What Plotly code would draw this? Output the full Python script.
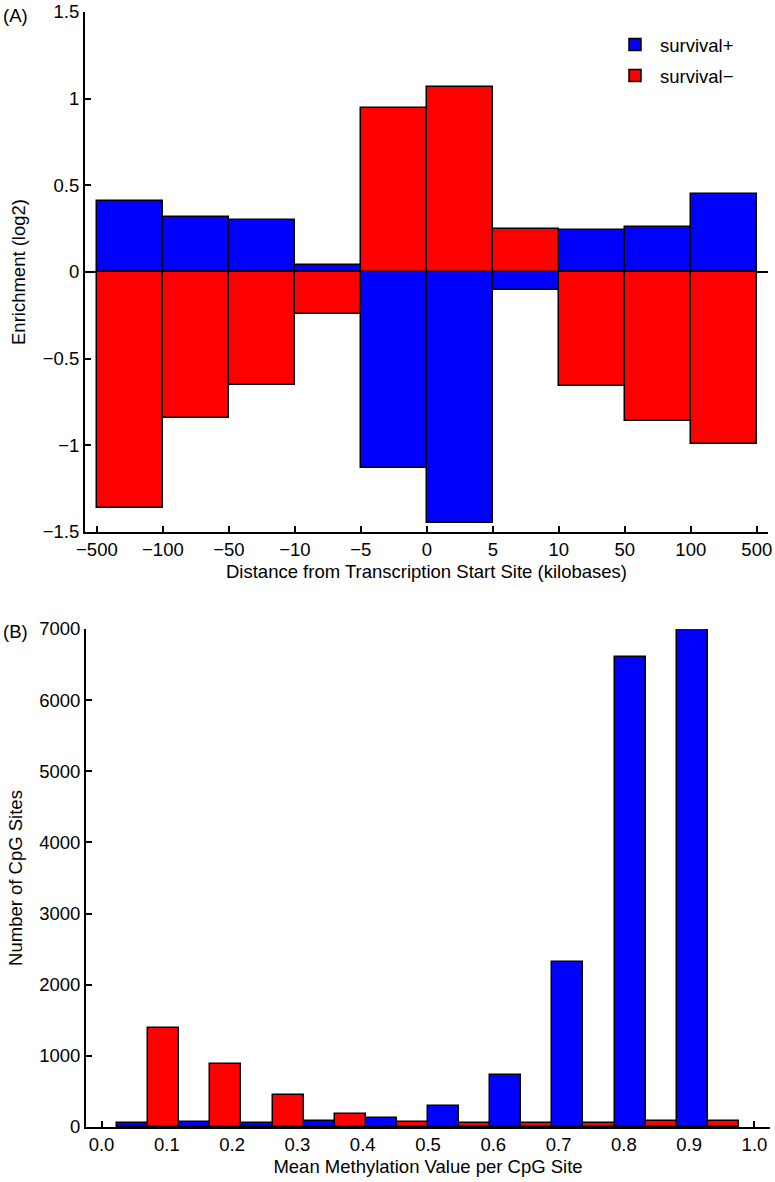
import plotly.graph_objects as go

# ---- Panel A data ----
tss_ticks = ["\u2212500", "\u2212100", "\u221250", "\u221210", "\u22125", "0", "5", "10", "50", "100", "500"]
enrich_pos = [0.41, 0.315, 0.30, 0.04, -1.13, -1.45, -0.105, 0.24, 0.26, 0.45]   # survival+
enrich_neg = [-1.36, -0.84, -0.65, -0.245, 0.945, 1.065, 0.25, -0.66, -0.86, -0.99]  # survival-

# ---- Panel B data ----
# bars are drawn at slot positions 1..20 (survival+ in odd slots, survival- in even slots);
# the 11 methylation tick labels are spread evenly from slot 0 to slot 21
bar_slots_pos = [1, 3, 5, 7, 9, 11, 13, 15, 17, 19]
bar_slots_neg = [2, 4, 6, 8, 10, 12, 14, 16, 18, 20]
meth_tick_slots = [0.0, 2.1, 4.2, 6.3, 8.4, 10.5, 12.6, 14.7, 16.8, 18.9, 21.0]
meth_ticks = ["0.0", "0.1", "0.2", "0.3", "0.4", "0.5", "0.6", "0.7", "0.8", "0.9", "1.0"]
count_pos = [50, 70, 50, 85, 120, 300, 730, 2320, 6610, 7000]   # survival+
count_neg = [1395, 880, 450, 180, 70, 55, 55, 55, 80, 85]       # survival-

BLUE = "#0000FF"
RED = "#FF0000"
FONT = "Liberation Sans, Arial, sans-serif"
FS = 18.5

fig = go.Figure()

centers_a = [i + 0.5 for i in range(len(enrich_pos))]
fig.add_trace(go.Bar(x=centers_a, y=enrich_pos, width=1.0, name="survival+", legendgroup="p",
                     marker=dict(color=BLUE, line=dict(color="black", width=1.5)),
                     xaxis="x", yaxis="y", showlegend=True))
fig.add_trace(go.Bar(x=centers_a, y=enrich_neg, width=1.0, name="survival\u2212", legendgroup="n",
                     marker=dict(color=RED, line=dict(color="black", width=1.5)),
                     xaxis="x", yaxis="y", showlegend=True))

fig.add_trace(go.Bar(x=bar_slots_pos, y=count_pos, width=1.0, name="survival+",
                     legendgroup="p",
                     marker=dict(color=BLUE, line=dict(color="black", width=1.5)),
                     xaxis="x2", yaxis="y2", showlegend=False))
fig.add_trace(go.Bar(x=bar_slots_neg, y=count_neg, width=1.0, name="survival\u2212",
                     legendgroup="n",
                     marker=dict(color=RED, line=dict(color="black", width=1.5)),
                     xaxis="x2", yaxis="y2", showlegend=False))

W, H = 775, 1182
axis_common = dict(showline=True, linecolor="black", linewidth=2, ticks="inside",
                   ticklen=6, tickwidth=2, tickcolor="black", showgrid=False,
                   automargin=False, ticklabeloverflow="allow",
                   tickfont=dict(family=FONT, size=FS, color="black"), mirror=False)
title_font = dict(family=FONT, size=FS, color="black")

fig.update_layout(
    width=W, height=H,
    margin=dict(l=0, r=0, t=0, b=0, autoexpand=False),
    paper_bgcolor="white", plot_bgcolor="white",
    barmode="overlay", bargap=0,
    font=dict(family=FONT, size=FS, color="black"),
    xaxis=dict(domain=[85 / W, 768 / W], range=[-0.18, 10.17],
               tickmode="array", tickvals=list(range(11)), ticktext=tss_ticks,
               anchor="y", zeroline=False,
               title=dict(text="Distance from Transcription Start Site (kilobases)",
                          font=title_font, standoff=6),
               **axis_common),
    yaxis=dict(domain=[1 - 532 / H, 1 - 12 / H], range=[-1.5, 1.5],
               tickmode="array", tickvals=[-1.5, -1, -0.5, 0, 0.5, 1, 1.5],
               ticktext=["\u22121.5", "\u22121", "\u22120.5", "0", "0.5", "1", "1.5"],
               anchor="x", zeroline=True, zerolinecolor="black", zerolinewidth=2,
               title=dict(text="Enrichment (log2)", font=title_font, standoff=12),
               **axis_common),
    xaxis2=dict(domain=[86 / W, 770 / W], range=[-0.5, 21.5],
                tickmode="array", tickvals=meth_tick_slots, ticktext=meth_ticks,
                anchor="y2", zeroline=False, layer="below traces",
                title=dict(text="Mean Methylation Value per CpG Site",
                           font=title_font, standoff=6),
                **axis_common),
    yaxis2=dict(domain=[1 - 1127 / H, 1 - 629 / H], range=[0, 7000],
                tickmode="array", tickvals=[0, 1000, 2000, 3000, 4000, 5000, 6000, 7000],
                anchor="x2", zeroline=False,
                title=dict(text="Number of CpG Sites", font=title_font, standoff=12),
                **axis_common),
    legend=dict(x=610 / W, y=1 - 26 / H, xanchor="left", yanchor="top",
                bgcolor="rgba(0,0,0,0)", borderwidth=0,
                font=dict(family=FONT, size=FS, color="black"),
                tracegroupgap=4, itemwidth=40),
    annotations=[
        dict(text="(A)", x=1 / W, y=1 - 3 / H, xref="paper", yref="paper",
             xanchor="left", yanchor="top", showarrow=False,
             font=dict(family=FONT, size=FS, color="black")),
        dict(text="(B)", x=1 / W, y=1 - 619 / H, xref="paper", yref="paper",
             xanchor="left", yanchor="top", showarrow=False,
             font=dict(family=FONT, size=FS, color="black")),
    ],
)

fig.write_html("out.html", config={"displayModeBar": False},
               post_script="document.body.style.margin='0px';")
